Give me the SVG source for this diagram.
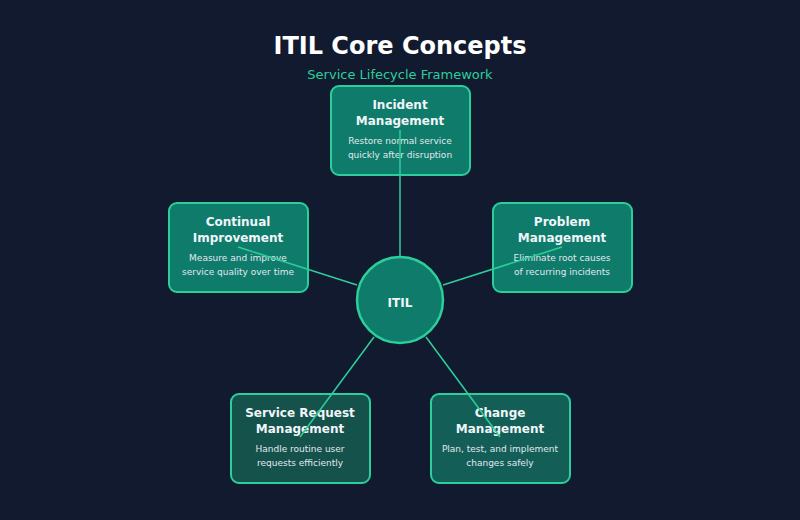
<svg xmlns="http://www.w3.org/2000/svg" width="800" height="520" viewBox="0 0 800 520">
<style>
.box{stroke:#2ccf9c;stroke-width:2}
.t{font-family:"DejaVu Sans",sans-serif;font-size:12px;font-weight:bold;fill:#f1f5f9;text-anchor:middle}
.d{font-family:"DejaVu Sans",sans-serif;font-size:9px;fill:#e2e8f0;text-anchor:middle}
.c{stroke:#2ccf9c;stroke-width:1.5;fill:none}
</style>
<rect width="800" height="520" fill="#111a2e"/>
<text x="400" y="54" font-family="DejaVu Sans,sans-serif" font-size="24" font-weight="bold" fill="#ffffff" text-anchor="middle">ITIL Core Concepts</text>
<text x="400" y="79" font-family="DejaVu Sans,sans-serif" font-size="13" fill="#2ccf9c" text-anchor="middle">Service Lifecycle Framework</text>
<g id="n-incident"><rect class="box" x="331" y="86" width="139" height="89" rx="8" fill="#0f7b6b"/><text class="t" x="400" y="109">Incident</text><text class="t" x="400" y="125">Management</text><text class="d" x="400" y="144">Restore normal service</text><text class="d" x="400" y="158">quickly after disruption</text></g>
<g id="n-continual"><rect class="box" x="169" y="203" width="139" height="89" rx="8" fill="#0f7b6b"/><text class="t" x="238" y="226">Continual</text><text class="t" x="238" y="242">Improvement</text><text class="d" x="238" y="261">Measure and improve</text><text class="d" x="238" y="275">service quality over time</text></g>
<g id="n-problem"><rect class="box" x="493" y="203" width="139" height="89" rx="8" fill="#0f7b6b"/><text class="t" x="562" y="226">Problem</text><text class="t" x="562" y="242">Management</text><text class="d" x="562" y="261">Eliminate root causes</text><text class="d" x="562" y="275">of recurring incidents</text></g>
<g id="n-service"><rect class="box" x="231" y="394" width="139" height="89" rx="8" fill="#14524b"/><text class="t" x="300" y="417">Service Request</text><text class="t" x="300" y="433">Management</text><text class="d" x="300" y="452">Handle routine user</text><text class="d" x="300" y="466">requests efficiently</text></g>
<g id="n-change"><rect class="box" x="431" y="394" width="139" height="89" rx="8" fill="#135f57"/><text class="t" x="500" y="417">Change</text><text class="t" x="500" y="433">Management</text><text class="d" x="500" y="452">Plan, test, and implement</text><text class="d" x="500" y="466">changes safely</text></g>
<g id="n-itil"><circle cx="400" cy="300" r="43" fill="#0f7b6b" stroke="#2ccf9c" stroke-width="2.5"/><text class="t" x="400" y="307" font-size="11">ITIL</text></g>
<g id="connectors">
<line class="c" x1="400" y1="257" x2="400" y2="130"/>
<line class="c" x1="357" y1="285" x2="238" y2="247"/>
<line class="c" x1="443" y1="285" x2="562" y2="247"/>
<line class="c" x1="374" y1="337" x2="300" y2="437"/>
<line class="c" x1="426" y1="337" x2="500" y2="437"/>
</g>
</svg>
